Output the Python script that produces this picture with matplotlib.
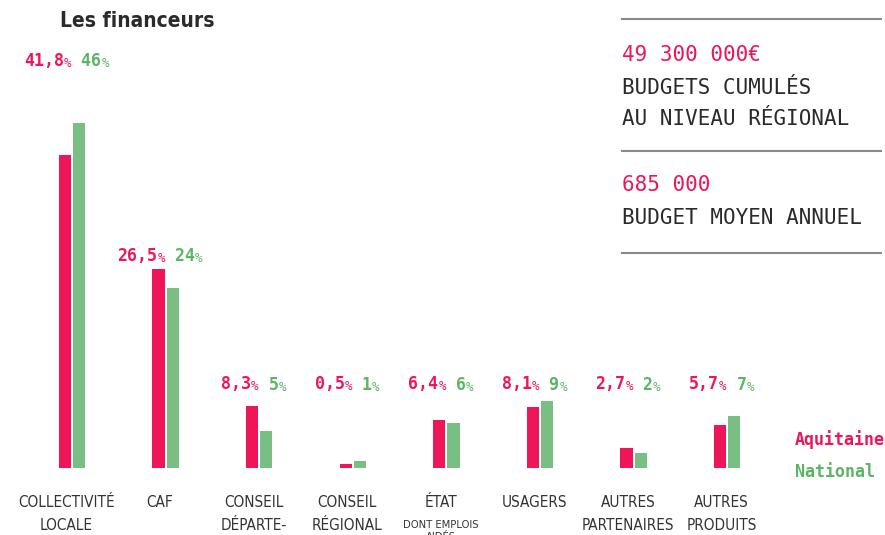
import matplotlib
matplotlib.use("Agg")
import matplotlib.pyplot as plt
import numpy as np

categories = ["COLLECTIVITÉ\nLOCALE", "CAF", "CONSEIL\nDÉPARTE-\nMENTAL", "CONSEIL\nRÉGIONAL",
              "ÉTAT", "USAGERS", "AUTRES\nPARTENAIRES", "AUTRES\nPRODUITS"]
subcategories = ["", "", "", "", "DONT EMPLOIS\nAIDÉS", "", "", ""]
aquitaine = [41.8, 26.5, 8.3, 0.5, 6.4, 8.1, 2.7, 5.7]
national = [46, 24, 5, 1, 6, 9, 2, 7]
aquitaine_labels = ["41,8", "26,5", "8,3", "0,5", "6,4", "8,1", "2,7", "5,7"]
national_labels = ["46", "24", "5", "1", "6", "9", "2", "7"]
side_numbers = ["49 300 000€", "685 000"]
side_texts = [["BUDGETS CUMULÉS", "AU NIVEAU RÉGIONAL"], ["BUDGET MOYEN ANNUEL"]]

PINK = "#ee1558"
GREEN_BAR = "#79bf83"
GREEN_TXT = "#5cb565"
DARK = "#2a2a2a"
MONO = "DejaVu Sans Mono"
COND = dict(family="DejaVu Sans", fontstretch="condensed")

fig = plt.figure(figsize=(8.85, 5.35), dpi=100)
ax = fig.add_axes([0, 67 / 535, 1, 468 / 535])
ymax = 468 / 7.5
ax.set_ylim(0, ymax)
ax.set_xlim(-72 / 93.6, (885 - 72) / 93.6)
ax.axis("off")

x = np.arange(len(categories))
w = 0.13
ax.bar(x - 0.075, aquitaine, width=w, color=PINK)
ax.bar(x + 0.075, national, width=w, color=GREEN_BAR)

# value labels: big number + small percent sign, centred over the pair
fig.canvas.draw()
renderer = fig.canvas.get_renderer()
for i in x:
    top = max(aquitaine[i], national[i])
    y = ymax - 8.8 if i == 0 else max(top + 1.1, 10.5)
    t1 = ax.text(i, y, aquitaine_labels[i], color=PINK, fontsize=12, fontweight="bold",
                 family=MONO, ha="left", va="baseline")
    t2 = ax.annotate("%", xy=(1, 0), xycoords=t1, color=PINK, fontsize=9,
                     family=MONO, ha="left", va="bottom")
    t3 = ax.annotate(" " + national_labels[i], xy=(1, 0), xycoords=t2, color=GREEN_TXT,
                     fontsize=12, fontweight="bold", family=MONO, ha="left", va="bottom",
                     xytext=(0, -0.3), textcoords="offset points")
    t4 = ax.annotate("%", xy=(1, 0), xycoords=t3, color=GREEN_TXT, fontsize=9,
                     family=MONO, ha="left", va="bottom")
    fig.canvas.draw()
    x0 = t1.get_window_extent(renderer).x0
    x1 = t4.get_window_extent(renderer).x1
    shift = (x1 - x0) / 2
    px, py = ax.transData.transform((i - 0.06, y))
    t1.set_position(ax.transData.inverted().transform((px - shift, py)))

# category labels (third lines run off the bottom edge, as in the original)
for i in x:
    ax.text(i - 0.06, -3.6, categories[i], ha="center", va="top", fontsize=11,
            color="#333333", linespacing=1.65, clip_on=False, **COND)
    if subcategories[i]:
        ax.text(i - 0.06, -6.9, subcategories[i], ha="center", va="top", fontsize=8,
                color="#333333", linespacing=1.3, clip_on=False, **COND)

# legend
fig.text(795 / 885, 1 - 440 / 535, "Aquitaine", color=PINK, fontsize=12, fontweight="bold",
         family=MONO, va="center", ha="left")
fig.text(795 / 885, 1 - 472 / 535, "National", color=GREEN_TXT, fontsize=12, fontweight="bold",
         family=MONO, va="center", ha="left")

# title
fig.text(60 / 885, 1 - 21 / 535, "Les financeurs", fontsize=15, fontweight="bold",
         color=DARK, va="center", ha="left", **COND)

# side panel
for yy in [19, 151, 253]:
    fig.add_artist(plt.Line2D([622 / 885, 881 / 885], [1 - yy / 535] * 2,
                              color="#8a8a8a", lw=1.5))
for num, lines, base in zip(side_numbers, side_texts, [61, 191]):
    fig.text(622 / 885, 1 - base / 535, num, color=PINK, fontsize=15, family=MONO,
             va="baseline", ha="left")
    for k, line in enumerate(lines):
        fig.text(622 / 885, 1 - (base + 33 + 31 * k) / 535, line, color=DARK, fontsize=15,
                 family=MONO, va="baseline", ha="left")

fig.savefig("out.png", dpi=100)
